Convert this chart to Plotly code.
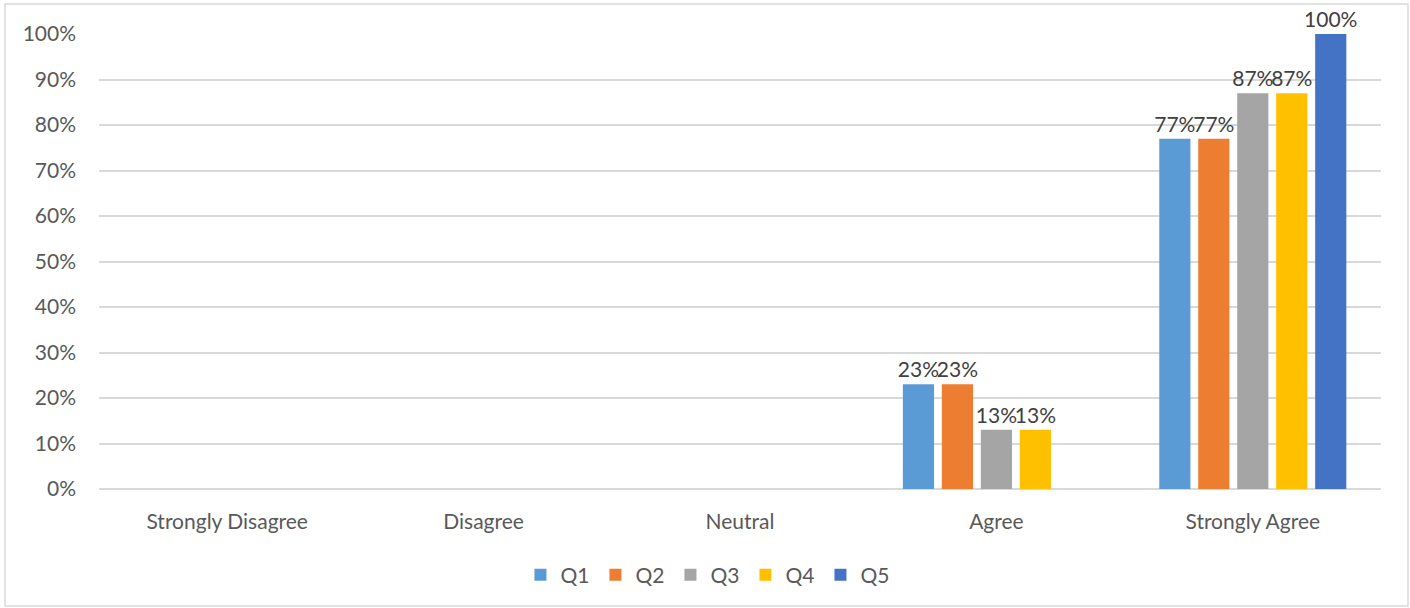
import plotly.graph_objects as go

categories = ["Strongly Disagree", "Disagree", "Neutral", "Agree", "Strongly Agree"]
series_names = ["Q1", "Q2", "Q3", "Q4", "Q5"]
q1 = [None, None, None, 23, 77]
q2 = [None, None, None, 23, 77]
q3 = [None, None, None, 13, 87]
q4 = [None, None, None, 13, 87]
q5 = [None, None, None, None, 100]
colors = ["#5B9BD5", "#ED7D31", "#A5A5A5", "#FFC000", "#4472C4"]
y_ticks = list(range(0, 101, 10))
y_tick_labels = [f"{v}%" for v in y_ticks]

FONT = "Lato"
FS = 21
fig = go.Figure()
for name, vals, col in zip(series_names, [q1, q2, q3, q4, q5], colors):
    fig.add_trace(go.Bar(
        x=categories, y=vals, name=name, marker_color=col,
        marker_line_width=0,
        text=[f"{v}%" if v is not None else "" for v in vals],
        textposition="outside", cliponaxis=False, constraintext="none",
        textfont=dict(family=FONT, size=FS, color="#404040"),
        hoverinfo="skip",
    ))

fig.update_layout(
    width=1410, height=608,
    margin=dict(l=99, r=29, t=34, b=119, autoexpand=False),
    plot_bgcolor="white", paper_bgcolor="white",
    barmode="group", bargap=0.24, bargroupgap=0.2,
    font=dict(family=FONT, size=FS, color="#595959"),
    showlegend=True,
    legend=dict(orientation="h", x=0.475, xanchor="center",
                y=-0.189, yanchor="middle",
                font=dict(family=FONT, size=FS, color="#595959"),
                itemwidth=30, traceorder="normal", entrywidth=30),
    xaxis=dict(showgrid=False, showline=False, ticks="", ticklabelstandoff=18,
               tickangle=0,
               tickfont=dict(family=FONT, size=FS, color="#595959")),
    yaxis=dict(range=[0, 100], tickvals=y_ticks, ticktext=y_tick_labels,
               showgrid=True, gridcolor="#D9D9D9", gridwidth=1.5,
               zeroline=True, zerolinecolor="#D9D9D9", zerolinewidth=1.5,
               showline=False, ticks="", ticklabelstandoff=22,
               tickfont=dict(family=FONT, size=FS, color="#595959")),
    shapes=[dict(type="rect", xref="paper", yref="paper",
                 x0=(5 - 99) / 1282, x1=(1408 - 99) / 1282,
                 y0=(489 - 606) / 455, y1=(489 - 4) / 455,
                 line=dict(color="#D9D9D9", width=1.5), fillcolor="rgba(0,0,0,0)",
                 layer="below")],
)

fig.write_html("out.html", config={"displayModeBar": False},
               post_script="document.body.style.margin='0';")
